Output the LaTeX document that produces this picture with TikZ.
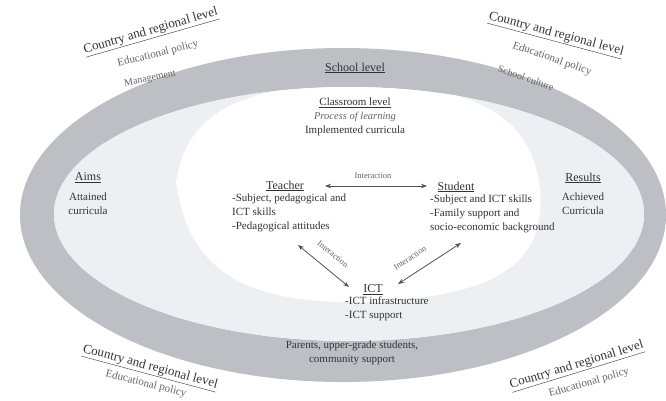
\documentclass[tikz,border=0pt]{standalone}
\usepackage{fontspec}
\setmainfont{Liberation Serif}
\usetikzlibrary{arrows.meta}
\definecolor{band}{RGB}{190,191,196}
\definecolor{inner}{RGB}{238,239,243}
\definecolor{ink}{RGB}{50,50,55}
\definecolor{soft}{RGB}{100,100,106}
\tikzset{
  txt/.style={inner sep=0pt, text=ink, font=\fontsize{11}{14}\selectfont},
  head/.style={inner sep=0pt, text=ink, font=\fontsize{12}{14}\selectfont},
  lst/.style={txt, anchor=north west, align=left},
  ctr/.style={txt, align=center},
  small/.style={inner sep=0pt, text=soft, font=\fontsize{8.5}{9}\selectfont},
  faint/.style={inner sep=0pt, text=soft, font=\fontsize{10}{11}\selectfont},
  outer/.style={inner sep=0pt, text=ink, font=\fontsize{13}{14}\selectfont},
  policy/.style={inner sep=0pt, text=soft, font=\fontsize{11}{12}\selectfont},
  link/.style={draw=ink!85, line width=0.8pt, {Stealth[length=6pt,width=4.5pt]}-{Stealth[length=6pt,width=4.5pt]}}
}
\newcommand{\ul}[1]{\underline{#1}}
\begin{document}
\begin{tikzpicture}[x=1pt,y=-1pt]
\useasboundingbox (0,0) rectangle (666,400);
\fill[white] (0,0) rectangle (666,400);
% ring
\fill[band,even odd rule] (343,215) ellipse [x radius=323, y radius=167]
  (349,214) ellipse [x radius=295, y radius=127];
\fill[inner] (349,214) ellipse [x radius=295, y radius=127];
\begin{scope}
\clip (349,214) ellipse [x radius=295, y radius=127];
\fill[white] (176,182) .. controls (185,120) and (230,86) .. (350,84)
  .. controls (470,84) and (532,112) .. (540,190)
  .. controls (546,262) and (500,300) .. (350,302)
  .. controls (220,302) and (186,250) .. (176,182) -- cycle;
\end{scope}

% outside labels
\node[outer, rotate=16] (ctl) at (151,32) {\ul{Country and regional level}};
\node[policy, rotate=14] (etl) at (158,54) {Educational policy};
\node[outer, rotate=-15] (ctr) at (556,35) {\ul{Country and regional level}};
\node[policy, rotate=-19] (etr) at (552,59) {Educational policy};
\node[faint, rotate=-19] (scu) at (526,78) {School culture};
\node[faint, rotate=11] (man) at (150,79) {Management};
\node[outer, rotate=-15] (cbl) at (150,368) {\ul{Country and regional level}};
\node[policy, rotate=-14] (ebl) at (146,384) {Educational policy};
\node[outer, rotate=17] (cbr) at (577,366) {\ul{Country and regional level}};
\node[policy, rotate=16] (ebr) at (589,383) {Educational policy};

% school / classroom
\node[head] (school) at (355,68) {\ul{School level}};
\node[txt] (class) at (355,103) {\ul{Classroom level}};
\node[txt, text=soft, font=\fontsize{10.5}{12}\itshape] (proc) at (355,117) {Process of learning};
\node[txt] (impl) at (355,131) {Implemented curricula};

% aims / results
\node[head] (aims) at (88,178) {\ul{Aims}};
\node[ctr, anchor=north] (att) at (88,193) {Attained\\curricula};
\node[head] (res) at (583,178) {\ul{Results}};
\node[ctr, anchor=north] (ach) at (583,193) {Achieved\\Curricula};

% teacher
\node[head] (teacher) at (285,186) {\ul{Teacher}};
\node[lst] (tl) at (232,194) {-Subject, pedagogical and\\ICT skills\\-Pedagogical attitudes};
% student
\node[head] (student) at (456,187) {\ul{Student}};
\node[lst] (sl) at (430,195) {-Subject and ICT skills\\-Family support and\\socio-economic background};
% ict
\node[head] (ict) at (373,290) {\ul{ICT}};
\node[lst] (il) at (345,297) {-ICT infrastructure\\-ICT support};

% parents
\node[ctr, anchor=north] (par) at (352,341) {Parents, upper-grade students,\\community support};

% connectors
\coordinate (tA) at (325,186);
\coordinate (sA) at (427,186);
\coordinate (tB) at (298,245);
\coordinate (iB) at (349,287);
\coordinate (sC) at (461,243);
\coordinate (iC) at (398,284);
\draw[link] (tA) -- (sA);
\draw[link] (tB) -- (iB);
\draw[link] (iC) -- (sC);
\node[small] (lab1) at (373,176) {Interaction};
\node[small, rotate=-39] (lab2) at (333,254) {Interaction};
\node[small, rotate=33] (lab3) at (410,258) {Interaction};
\end{tikzpicture}
\end{document}
